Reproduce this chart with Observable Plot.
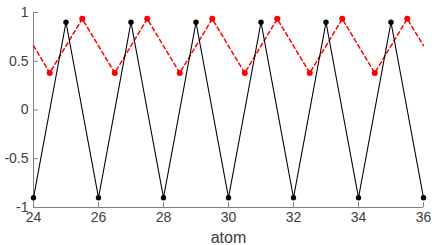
<!DOCTYPE html>
<html><head><meta charset="utf-8">
<script src="https://cdn.jsdelivr.net/npm/d3@7"></script>
<script src="https://cdn.jsdelivr.net/npm/@observablehq/plot@0.6"></script>
<style>body{margin:0;background:#fff}</style>
</head><body><div id="chart"></div>
<script>
const blackX = [24,25,26,27,28,29,30,31,32,33,34,35,36];
const blackY = [-0.9,0.9,-0.9,0.9,-0.9,0.9,-0.9,0.9,-0.9,0.9,-0.9,0.9,-0.9];
const redX = [24,24.5,25.5,26.5,27.5,28.5,29.5,30.5,31.5,32.5,33.5,34.5,35.5,36];
const redY = [0.66,0.38,0.935,0.38,0.935,0.38,0.935,0.38,0.935,0.38,0.935,0.38,0.935,0.66];
const redDot = redX.map((x,i)=>i>0&&i<redX.length-1);
const xTicks = [24,26,28,30,32,34,36];
const yTicks = [-1,-0.5,0,0.5,1];
const xLabel = "atom";

const black = blackX.map((x,i)=>({x,y:blackY[i]}));
const red = redX.map((x,i)=>({x,y:redY[i],dot:redDot[i]}));
const font = "Helvetica, 'Liberation Sans', Arial, sans-serif";
const axisColor = "#808080";
const textColor = "#404040";

const plot = Plot.plot({
  width: 435, height: 245,
  marginLeft: 33, marginRight: 12, marginTop: 12, marginBottom: 38,
  style: {fontFamily: font, fontSize: "14px", color: textColor, background: "#fff"},
  x: {domain: [24,36]},
  y: {domain: [-1,1]},
  marks: [
    Plot.ruleX([24], {stroke: axisColor}),
    Plot.ruleY([-1], {stroke: axisColor}),
    Plot.axisX(xTicks, {tickSize: -5, text: null, stroke: axisColor, label: null}),
    Plot.axisX(xTicks, {tickSize: 0, tickPadding: 5, fill: textColor, fontSize: 14, label: null}),
    Plot.axisY(yTicks, {tickSize: -5, text: null, stroke: axisColor, label: null}),
    Plot.axisY(yTicks, {tickSize: 0, tickPadding: 5, fill: textColor, fontSize: 14, label: null, tickFormat: d => String(d)}),
    Plot.text([xLabel], {frameAnchor: "bottom", dy: 35, text: d => d, fill: textColor, fontSize: 16, lineAnchor: "bottom"}),
    Plot.line(red, {x: "x", y: "y", stroke: "#ff0000", strokeWidth: 1.5, strokeDasharray: "4,3"}),
    Plot.dot(red.filter(d=>d.dot), {x: "x", y: "y", r: 3, fill: "#ff0000"}),
    Plot.line(black, {x: "x", y: "y", stroke: "#000", strokeWidth: 1.1}),
    Plot.dot(black, {x: "x", y: "y", r: 2.7, fill: "#000"})
  ]
});
document.getElementById("chart").appendChild(plot);
</script></body></html>
